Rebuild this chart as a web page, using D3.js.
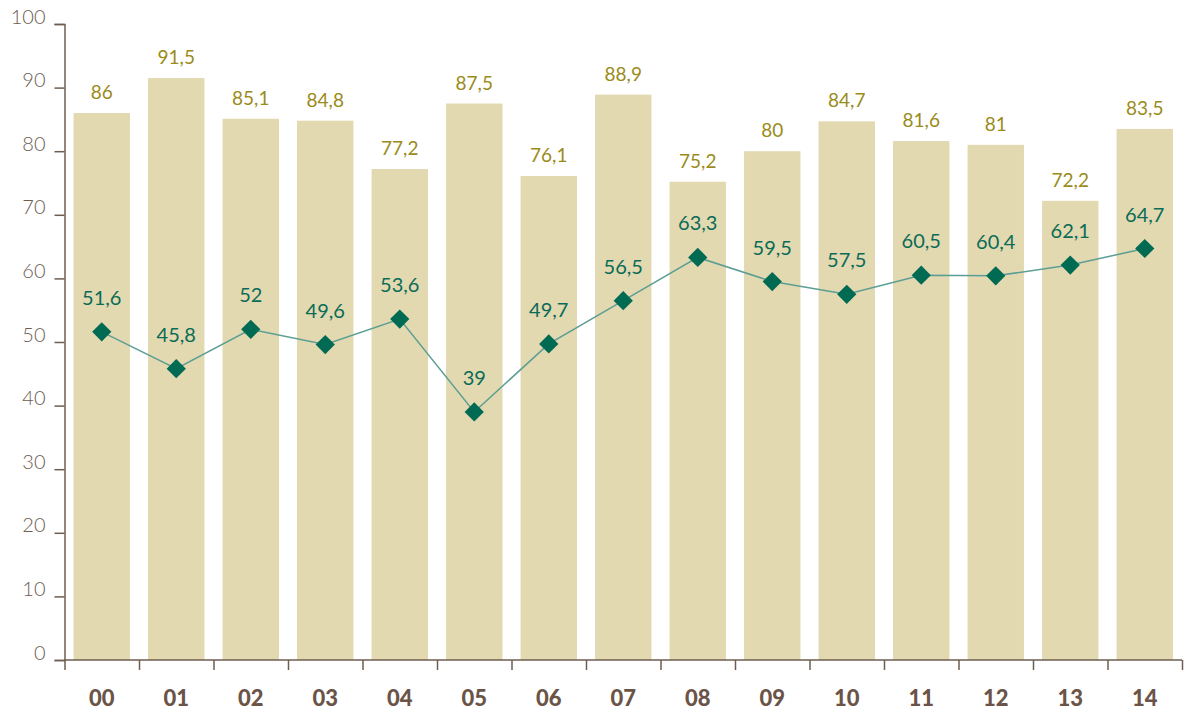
<!DOCTYPE html>
<html lang="en">
<head>
<meta charset="UTF-8">
<title>Chart</title>
<script src="https://d3js.org/d3.v7.min.js"></script>
<style>
  body { margin: 0; background: #fff; }
  text { font-family: Lato, "Noto Sans", sans-serif; }
</style>
</head>
<body>
<div id="chart"></div>
<script>
  // data
  const years = ['00','01','02','03','04','05','06','07','08','09','10','11','12','13','14'];
  const barValues = [86, 91.5, 85.1, 84.8, 77.2, 87.5, 76.1, 88.9, 75.2, 80, 84.7, 81.6, 81, 72.2, 83.5];
  const lineValues = [51.6, 45.8, 52, 49.6, 53.6, 39, 49.7, 56.5, 63.3, 59.5, 57.5, 60.5, 60.4, 62.1, 64.7];
  const yTicks = [0, 10, 20, 30, 40, 50, 60, 70, 80, 90, 100];

  const W = 1192, H = 712;
  const mLeft = 64.5, mRight = 1182, mTop = 24, mBottom = 660;
  const fmt = v => String(v).replace('.', ',');

  const svg = d3.select('#chart').append('svg').attr('width', W).attr('height', H);

  const x = d3.scaleBand().domain(years).range([mLeft, mRight])
    .paddingInner(0.243).paddingOuter(0.1215);
  const y = d3.scaleLinear().domain([0, 100]).range([mBottom, mTop]);

  // bars
  svg.selectAll('rect.bar').data(barValues).enter()
    .append('rect')
    .attr('class', 'bar')
    .attr('x', (d, i) => x(years[i]))
    .attr('y', d => y(d))
    .attr('width', x.bandwidth())
    .attr('height', d => y(0) - y(d))
    .attr('fill', '#e2d9b1');

  svg.selectAll('text.barlbl').data(barValues).enter()
    .append('text')
    .attr('class', 'barlbl')
    .attr('x', (d, i) => x(years[i]) + x.bandwidth() / 2)
    .attr('y', d => y(d) - 14)
    .attr('text-anchor', 'middle')
    .attr('font-size', 19)
    .attr('fill', '#9a8b1a')
    .text(fmt);

  // axes
  const axisColor = '#6e5d51';
  const yAxis = svg.append('g').attr('transform', `translate(${mLeft},0)`)
    .call(d3.axisLeft(y).tickValues(yTicks).tickSize(10).tickPadding(9));
  yAxis.select('.domain').attr('stroke', axisColor).attr('stroke-width', 1.5);
  yAxis.selectAll('.tick line').attr('stroke', axisColor).attr('stroke-width', 1.5);
  yAxis.selectAll('.tick text')
    .attr('dy', '-0.05em')
    .attr('font-size', 20)
    .attr('font-family', 'Lato, sans-serif')
    .attr('font-weight', 300)
    .attr('fill', axisColor);

  const xTickScale = d3.scaleLinear().domain([0, years.length]).range([mLeft, mRight]);
  const xAxis = svg.append('g').attr('transform', `translate(0,${mBottom})`)
    .call(d3.axisBottom(xTickScale).tickValues(d3.range(years.length + 1)).tickSize(10).tickFormat(''));
  xAxis.select('.domain').attr('stroke', axisColor).attr('stroke-width', 1.5).attr('d', `M${mLeft},0H${mRight}`);
  xAxis.selectAll('.tick line').attr('stroke', axisColor).attr('stroke-width', 1.5);

  svg.selectAll('text.xlbl').data(years).enter()
    .append('text')
    .attr('class', 'xlbl')
    .attr('x', d => x(d) + x.bandwidth() / 2)
    .attr('y', 706)
    .attr('text-anchor', 'middle')
    .attr('font-size', 22)
    .attr('font-weight', 900)
    .attr('fill', '#6b5447')
    .text(d => d);

  // line
  const line = d3.line()
    .x((d, i) => x(years[i]) + x.bandwidth() / 2)
    .y(d => y(d));

  svg.append('path')
    .datum(lineValues)
    .attr('d', line)
    .attr('fill', 'none')
    .attr('stroke', '#5c9e93')
    .attr('stroke-width', 1.5);

  svg.selectAll('path.pt').data(lineValues).enter()
    .append('path')
    .attr('class', 'pt')
    .attr('d', d3.symbol().type(d3.symbolSquare).size(185))
    .attr('transform', (d, i) => `translate(${x(years[i]) + x.bandwidth() / 2},${y(d)}) rotate(45)`)
    .attr('fill', '#006a53');

  svg.selectAll('text.ptlbl').data(lineValues).enter()
    .append('text')
    .attr('class', 'ptlbl')
    .attr('x', (d, i) => x(years[i]) + x.bandwidth() / 2)
    .attr('y', d => y(d) - 27)
    .attr('text-anchor', 'middle')
    .attr('font-size', 20)
    .attr('fill', '#0a6b56')
    .text(fmt);
</script>
</body>
</html>
